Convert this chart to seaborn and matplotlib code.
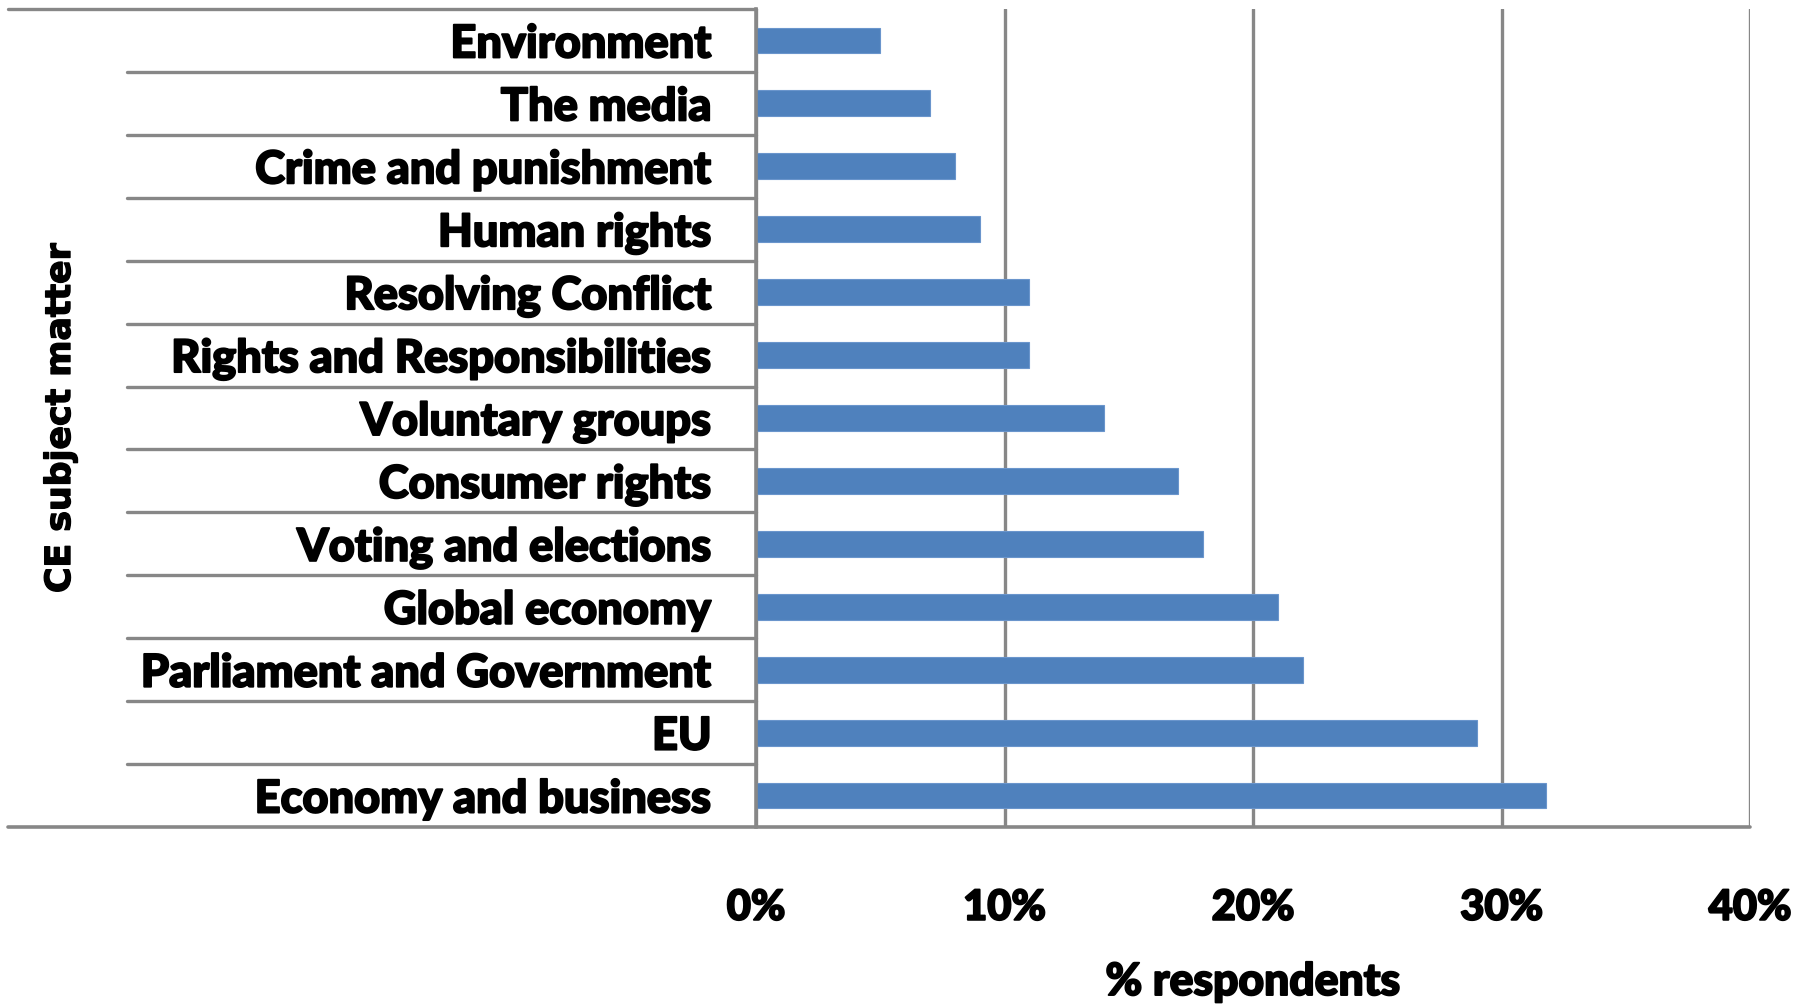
import matplotlib
matplotlib.use("Agg")
import matplotlib.pyplot as plt
import matplotlib.transforms as mtransforms
import matplotlib.patheffects as pe
from matplotlib.ticker import FuncFormatter
import seaborn as sns
import pandas as pd

# Survey data: share of respondents per citizenship-education subject
categories = [
    "Environment",
    "The media",
    "Crime and punishment",
    "Human rights",
    "Resolving Conflict",
    "Rights and Responsibilities",
    "Voluntary groups",
    "Consumer rights",
    "Voting and elections",
    "Global economy",
    "Parliament and Government",
    "EU",
    "Economy and business",
]
percent_respondents = [5, 7, 8, 9, 11, 11, 14, 17, 18, 21, 22, 29, 31.8]
x_ticks = [0, 10, 20, 30, 40]

df = pd.DataFrame({"subject": categories, "pct": percent_respondents})

sns.set_theme(style="white")
plt.rcParams["font.family"] = ["Lato", "DejaVu Sans"]

BAR_COLOR = "#4F81BD"
LINE_COLOR = "#878787"
LABEL_FONT = ["Lato", "DejaVu Sans"]
HEAVY = [pe.withStroke(linewidth=1.4, foreground="black")]

fig = plt.figure(figsize=(17.98, 10.05), dpi=100)
ax = fig.add_axes([756 / 1798, 1 - 827 / 1005, 994 / 1798, 818 / 1005])

sns.barplot(
    data=df, x="pct", y="subject", order=categories, orient="h",
    color=BAR_COLOR, saturation=1, width=0.41, ax=ax,
    edgecolor="#6A95CC", linewidth=0.8,
)

ax.set_xlim(0, 40)
ax.set_ylim(len(categories) - 0.5, -0.5)
ax.set_xticks(x_ticks)
ax.xaxis.set_major_formatter(FuncFormatter(lambda v, _: f"{v:.0f}%"))

# vertical gridlines
ax.grid(axis="x", color=LINE_COLOR, linewidth=2.4)
ax.grid(axis="y", visible=False)
ax.set_axisbelow(True)

for side in ["top", "right", "bottom"]:
    ax.spines[side].set_visible(False)
ax.spines["left"].set_color(LINE_COLOR)
ax.spines["left"].set_linewidth(2.6)
ax.spines["left"].set_zorder(3)

ax.tick_params(axis="x", direction="out", length=12.5, width=2.4,
               color=LINE_COLOR, pad=32, labelsize=30)
ax.tick_params(axis="y", length=0, pad=32, labelsize=32.5)
for lab in ax.get_xticklabels() + ax.get_yticklabels():
    lab.set_fontfamily(LABEL_FONT)
    lab.set_fontweight("black")
    lab.set_color("black")
    lab.set_path_effects(HEAVY)
for lab in ax.get_yticklabels():
    lab.set_y(lab.get_position()[1])

# table-style lines of the category axis
blend = mtransforms.blended_transform_factory(ax.transAxes, ax.transData)
sep_left = (127 - 756) / 994
outer_left = (8 - 756) / 994
for i in range(1, len(categories)):
    ax.plot([sep_left, 0], [i - 0.5, i - 0.5], transform=blend,
            color=LINE_COLOR, linewidth=2.4, clip_on=False, zorder=3)
ax.plot([outer_left, 0], [-0.5, -0.5], transform=blend,
        color=LINE_COLOR, linewidth=2.4, clip_on=False, zorder=3)
ax.plot([outer_left, 1], [len(categories) - 0.5, len(categories) - 0.5],
        transform=blend, color=LINE_COLOR, linewidth=2.6, clip_on=False, zorder=3)

ax.set_xlabel("% respondents", fontsize=32, fontweight="black",
              fontfamily=LABEL_FONT, va="center", color="black",
              path_effects=HEAVY)
ax.xaxis.set_label_coords(0.5, -(982 - 827) / 818)
ax.set_ylabel("CE subject matter", fontsize=25, fontweight="bold",
              fontfamily=["DejaVu Sans"], va="center", color="black",
              path_effects=[pe.withStroke(linewidth=1.0, foreground="black")])
ax.yaxis.set_label_coords((60 - 756) / 994, 0.5)

fig.savefig("out.png", dpi=100, facecolor="white")
